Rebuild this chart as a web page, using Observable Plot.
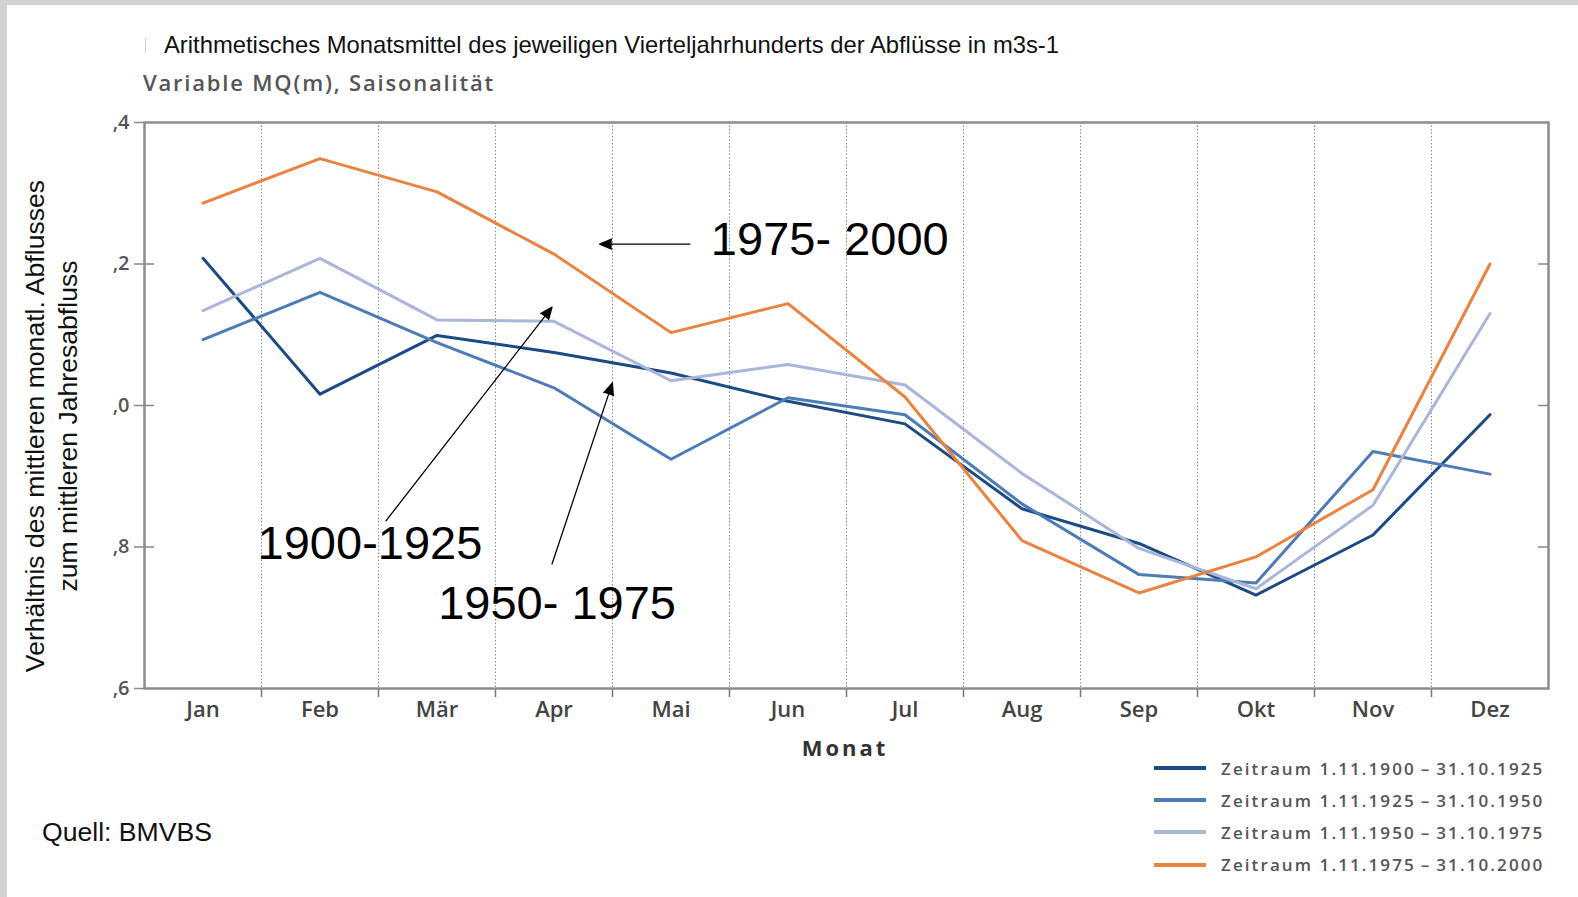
<!DOCTYPE html>
<html><head><meta charset="utf-8">
<script src="https://cdn.jsdelivr.net/npm/d3@7"></script>
<script src="https://cdn.jsdelivr.net/npm/@observablehq/plot@0.6"></script>
<style>
body{margin:0;background:#fff;}
#page{position:relative;width:1578px;height:897px;overflow:hidden;background:#fff;font-family:"Liberation Sans",Arial,sans-serif;}
#bt{position:absolute;left:0;top:0;width:1578px;height:5px;background:#d2d2d2;}
#bl{position:absolute;left:0;top:0;width:7px;height:897px;background:#d2d2d2;}
#chart{position:absolute;left:0;top:0;}
#title{position:absolute;left:164px;top:32px;font-size:23.8px;line-height:26px;color:#111;white-space:nowrap;}
#tbar{position:absolute;left:145px;top:38px;width:1px;height:15px;background:#cfcfcf;}
#subtitle{position:absolute;left:143px;top:69px;font-family:"Open Sans",sans-serif;font-weight:600;font-size:22px;line-height:26px;color:#555;letter-spacing:1.8px;white-space:nowrap;}
#xlabel{position:absolute;left:715px;width:260px;text-align:center;top:733px;font-family:"Open Sans",sans-serif;font-weight:700;font-size:22px;line-height:28px;color:#333;letter-spacing:3px;}
#ylabel{position:absolute;left:-308px;top:393px;width:720px;height:66px;text-align:center;transform:rotate(-90deg);font-size:26.6px;line-height:33px;color:#111;white-space:nowrap;}
#legend{position:absolute;left:1154px;top:752px;}
.lrow{display:flex;align-items:center;height:32.2px;}
.lsw{width:52px;height:4px;margin-right:15px;}
.ltx{font-family:"Open Sans",sans-serif;font-weight:600;font-size:17px;color:#555;letter-spacing:2.1px;white-space:nowrap;}
#source{position:absolute;left:42px;top:816px;font-size:26.6px;line-height:32px;color:#111;}
</style>
</head><body>
<div id="page">
  <div id="chart"></div>
  <div id="bt"></div><div id="bl"></div>
  <div id="tbar"></div>
  <div id="title"></div>
  <div id="subtitle"></div>
  <div id="xlabel"></div>
  <div id="ylabel"></div>
  <div id="legend"></div>
  <div id="source"></div>
</div>
<script>
// ---- data ----
const months = ["Jan","Feb","Mär","Apr","Mai","Jun","Jul","Aug","Sep","Okt","Nov","Dez"];
const s1900 = [1.208,1.016,1.099,1.075,1.046,1.006,0.974,0.854,0.805,0.732,0.817,0.987];
const s1925 = [1.093,1.160,1.089,1.025,0.924,1.011,0.987,0.861,0.761,0.749,0.935,0.903];
const s1950 = [1.134,1.208,1.121,1.119,1.035,1.058,1.029,0.904,0.798,0.741,0.859,1.130];
const s1975 = [1.286,1.349,1.302,1.214,1.103,1.144,1.012,0.809,0.735,0.786,0.881,1.200];
const seriesNames = [
  "Zeitraum 1.11.1900\u2009–\u200931.10.1925",
  "Zeitraum 1.11.1925\u2009–\u200931.10.1950",
  "Zeitraum 1.11.1950\u2009–\u200931.10.1975",
  "Zeitraum 1.11.1975\u2009–\u200931.10.2000"
];
const seriesColors = ["#1b4a84","#4d7bb6","#a9b5da","#ea833f"];
const yTicks = [0.6, 0.8, 1.0, 1.2, 1.4];
const yTickLabels = [",6", ",8", ",0", ",2", ",4"];
// annotations (data units: month index / ratio)
const annoLabels = ["1975- 2000", "1900-1925", "1950- 1975"];
const annoX = [6.357, 2.427, 4.026];
const annoY = [1.234, 0.804, 0.719];
const arrowX1 = [5.16, 2.564, 3.983];
const arrowY1 = [1.228, 0.837, 0.776];
const arrowX2 = [4.39, 3.983, 4.499];
const arrowY2 = [1.228, 1.139, 1.032];
const titleText = "Arithmetisches Monatsmittel des jeweiligen Vierteljahrhunderts der Abflüsse in m3s-1";
const subtitleText = "Variable MQ(m), Saisonalität";
const xTitle = "Monat";
const yTitle = ["Verhältnis des mittleren monatl. Abflusses", "zum mittleren Jahresabfluss"];
const sourceText = "Quell: BMVBS";

// ---- build ----
const allSeries = [s1900, s1925, s1950, s1975];
const rows = allSeries.flatMap((s, k) => s.map((v, i) => ({m: i + 1, v, k})));
const monthIdx = months.map((_, i) => i + 1);
const bounds = months.slice(1).map((_, i) => i + 1.5);
const annos = annoLabels.map((t, i) => ({t, x: annoX[i], y: annoY[i], x1: arrowX1[i], y1: arrowY1[i], x2: arrowX2[i], y2: arrowY2[i]}));

const chart = Plot.plot({
  width: 1578,
  height: 760,
  marginLeft: 144,
  marginRight: 30,
  marginTop: 122,
  marginBottom: 72,
  style: {background: "transparent", overflow: "visible"},
  x: {domain: [0.5, 12.5]},
  y: {domain: [0.6, 1.4]},
  marks: [
    Plot.ruleX(bounds, {stroke: "#8a8a8a", strokeWidth: 1, strokeDasharray: "1.5,2"}),
    Plot.axisX(monthIdx, {tickSize: 0, tickPadding: 13, tickFormat: i => months[i - 1], fontSize: 22, fontWeight: 600, fontFamily: "Open Sans", fill: "#444", style: {letterSpacing: "1.8px"}}),
    Plot.axisX(bounds, {tickSize: 9, tickFormat: () => "", stroke: "#777", strokeWidth: 1.5}),
    Plot.axisY(yTicks, {tickSize: 10, tickPadding: 5, tickFormat: d => yTickLabels[yTicks.indexOf(d)], fontSize: 20, fontWeight: 600, fontFamily: "Open Sans", fill: "#555", stroke: "#888", strokeWidth: 1.5}),
    Plot.axisY(yTicks.slice(1, -1), {anchor: "left", tickSize: -10, tickFormat: () => "", stroke: "#888", strokeWidth: 1.5}),
    Plot.axisY(yTicks.slice(1, -1), {anchor: "right", tickSize: -11, tickFormat: () => "", stroke: "#888", strokeWidth: 1.5}),
    Plot.frame({stroke: "#8c8c8c", strokeWidth: 2.5}),
    ...allSeries.map((s, k) => Plot.lineY(rows.filter(r => r.k === k), {x: "m", y: "v", stroke: seriesColors[k], strokeWidth: 3})),
    Plot.arrow(annos, {x1: "x1", y1: "y1", x2: "x2", y2: "y2", stroke: "#000", fill: "#000", strokeWidth: 1.3, headLength: 15, headAngle: 45}),
    Plot.text(annos, {x: "x", y: "y", text: "t", fontSize: 47, fontFamily: "Liberation Sans", fill: "#000", lineAnchor: "middle", textAnchor: "middle"})
  ]
});
document.getElementById("chart").appendChild(chart);

document.getElementById("title").textContent = titleText;
document.getElementById("subtitle").textContent = subtitleText;
document.getElementById("xlabel").textContent = xTitle;
document.getElementById("ylabel").innerHTML = yTitle.map(t => `<div>${t}</div>`).join("");
document.getElementById("source").textContent = sourceText;
const leg = document.getElementById("legend");
seriesNames.forEach((n, k) => {
  const r = document.createElement("div"); r.className = "lrow";
  r.innerHTML = `<div class="lsw" style="background:${seriesColors[k]}"></div><div class="ltx">${n}</div>`;
  leg.appendChild(r);
});
</script>
</body></html>
